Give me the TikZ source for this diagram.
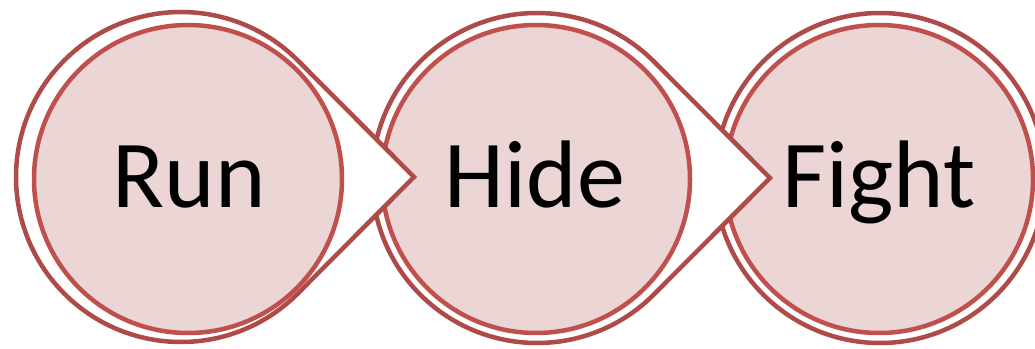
\documentclass[tikz,border=0pt]{standalone}
\usepackage{fontspec}
\setmainfont{Carlito}
\definecolor{outerred}{HTML}{AE4A47}
\definecolor{innerred}{HTML}{C0504D}
\definecolor{pinkfill}{HTML}{EBD5D5}
\begin{document}
\begin{tikzpicture}[x=1pt,y=1pt,
  outershape/.style={draw=outerred,line width=4.5pt,fill=white,line join=miter},
  innercirc/.style={circle,draw=innerred,line width=4.5pt,fill=pinkfill,inner sep=0pt,minimum size=308pt},
  steptext/.style={anchor=base,font=\fontsize{96}{110}\selectfont,inner sep=0pt}]
\useasboundingbox (0,0) rectangle (1035,348);
% Fight
\node[circle,draw=outerred,line width=4.5pt,fill=white,inner sep=0pt,minimum size=330pt] (fightout) at (880,170) {};
\node[innercirc] (fight) at (879,169) {};
% Hide
\coordinate (hideapex) at (770,170);
\draw[outershape] (537,170) ++(45:165) arc[start angle=45,end angle=315,radius=165] -- (hideapex) -- cycle;
\node[innercirc] (hide) at (536,169) {};
% Run
\coordinate (runapex) at (414,171);
\draw[outershape] (181,171) ++(45:165) arc[start angle=45,end angle=315,radius=165] -- (runapex) -- cycle;
\node[innercirc] (run) at (188,169) {};
% texts
\node[steptext] (runtext) at (189,140) {Run};
\node[steptext] (hidetext) at (535,140) {Hide};
\node[steptext] (fighttext) at (879,140) {Fight};
\end{tikzpicture}
\end{document}
